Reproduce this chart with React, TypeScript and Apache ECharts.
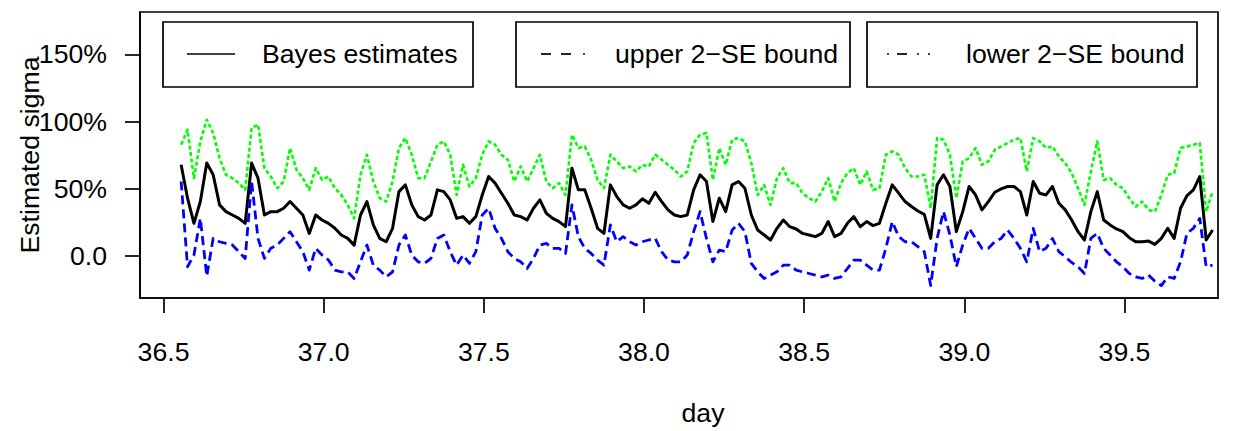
import { useEffect, useRef } from "react";
import * as echarts from "echarts";

// Sampling grid of the series (days)
const START_DAY = 36.555;
const STEP_DAY = 0.02;

// Bayes estimates of sigma (%)
const bayes = [
  67.8, 43.0, 24.3, 40.5, 69.1, 60.4, 38.0, 33.0, 30.5, 28.0,
  24.3, 69.1, 57.9, 30.5, 33.0, 33.0, 35.5, 40.5, 35.5, 30.5,
  16.8, 30.5, 26.8, 24.3, 20.6, 15.6, 13.1, 8.1, 30.5, 40.5,
  23.1, 13.1, 10.6, 20.6, 47.9, 52.9, 38.0, 29.3, 26.8, 30.5,
  49.2, 47.9, 41.7, 28.0, 29.3, 24.3, 29.3, 45.4, 59.1, 54.2,
  46.7, 39.2, 30.5, 29.3, 26.8, 35.5, 41.7, 31.8, 28.0, 25.6,
  21.8, 65.3, 49.2, 49.2, 35.5, 20.6, 16.8, 52.9, 44.2, 38.0,
  35.5, 38.0, 42.5, 39.2, 47.4, 40.5, 34.3, 30.5, 29.3, 30.5,
  49.2, 60.4, 55.4, 25.6, 43.0, 33.0, 52.9, 55.4, 50.4, 30.5,
  19.3, 15.6, 11.9, 20.6, 26.8, 21.8, 20.1, 16.8, 15.6, 14.4,
  16.8, 25.6, 14.4, 16.8, 24.3, 29.3, 21.8, 25.6, 22.6, 24.3,
  39.2, 52.9, 46.7, 40.5, 36.8, 33.5, 31.0, 13.1, 52.9, 60.4,
  51.7, 18.1, 33.0, 51.7, 45.4, 34.3, 40.5, 47.4, 49.9, 51.7,
  51.7, 47.9, 30.5, 55.4, 46.7, 45.4, 51.7, 39.2, 34.3, 26.8,
  18.1, 11.9, 33.0, 47.9, 26.8, 23.1, 20.1, 18.1, 13.6, 10.6,
  10.6, 11.1, 8.6, 13.1, 20.6, 13.1, 35.5, 44.9, 49.2, 59.1,
  11.9, 19.3,
];

// Upper 2-SE bound (%)
const upper = [
  82.8, 94.0, 57.9, 85.2, 101.4, 91.5, 72.8, 60.4, 57.9, 54.2,
  49.2, 95.2, 97.7, 65.3, 59.1, 50.4, 55.4, 80.3, 64.1, 57.9,
  49.2, 65.3, 56.6, 59.1, 50.4, 45.4, 38.0, 28.0, 60.4, 75.3,
  55.4, 43.0, 40.5, 55.4, 80.3, 87.7, 75.3, 57.9, 57.9, 70.3,
  82.8, 85.2, 75.3, 45.4, 67.8, 51.7, 57.9, 75.3, 85.2, 82.8,
  75.3, 71.6, 55.4, 66.6, 55.4, 65.3, 75.3, 55.4, 50.4, 54.2,
  45.4, 90.2, 80.3, 81.5, 71.6, 56.6, 50.4, 75.3, 70.3, 65.3,
  66.6, 62.9, 67.8, 66.6, 75.3, 71.6, 67.8, 64.1, 59.1, 62.9,
  84.0, 90.2, 91.5, 56.6, 80.3, 67.8, 86.5, 87.7, 85.2, 69.1,
  45.4, 52.9, 38.0, 57.9, 65.3, 54.2, 54.2, 46.7, 43.0, 40.5,
  47.9, 57.9, 40.5, 54.2, 61.6, 65.3, 52.9, 62.9, 49.2, 50.4,
  75.3, 77.8, 75.3, 65.3, 59.1, 59.1, 60.4, 35.5, 87.7, 86.5,
  75.3, 43.0, 70.3, 72.8, 80.3, 67.8, 70.3, 79.0, 81.5, 84.0,
  86.5, 87.7, 62.9, 87.7, 85.2, 80.3, 81.5, 74.0, 69.1, 61.6,
  50.4, 38.0, 62.9, 85.2, 56.6, 57.9, 52.9, 50.4, 43.0, 36.7,
  40.5, 34.3, 33.0, 45.4, 60.4, 61.6, 80.3, 81.5, 82.8, 84.0,
  33.0, 47.9,
];

// Lower 2-SE bound (%)
const lower = [
  55.4, -8.0, 0.7, 28.0, -15.0, 13.1, 10.6, 9.4, 8.2, 3.2,
  -1.8, 55.4, 13.1, -1.8, 5.7, 8.2, 13.1, 18.1, 10.6, 3.2,
  -10.5, 5.7, 0.7, -3.0, -10.5, -11.8, -11.8, -16.7, -4.3, 8.2,
  -6.8, -10.5, -15.5, -11.8, 8.2, 15.6, 0.7, -4.3, -5.5, -1.8,
  13.1, 15.6, 3.2, -6.8, 0.7, -5.5, 3.2, 30.5, 35.5, 20.6,
  13.1, 3.2, -1.8, -4.3, -9.3, -1.8, 8.2, 9.4, 5.7, 5.7,
  1.9, 38.0, 14.4, 5.7, 1.9, -3.0, -6.8, 23.1, 10.6, 14.4,
  10.6, 8.2, 10.6, 11.9, 13.1, 3.2, -3.0, -4.3, -4.3, 0.7,
  18.1, 33.0, 13.1, -4.3, 4.4, 3.2, 19.3, 24.3, 18.1, -5.5,
  -11.8, -16.7, -14.2, -11.8, -6.8, -6.8, -10.5, -11.8, -13.0, -14.2,
  -15.5, -14.2, -16.7, -15.5, -9.3, -3.0, -3.0, -6.8, -10.5, -10.5,
  5.7, 25.6, 14.4, 10.6, 10.6, 6.9, 3.2, -22.0, 13.1, 33.0,
  15.6, -8.0, 8.2, 20.6, 13.1, 5.7, 5.7, 10.6, 13.1, 19.3,
  13.1, 5.7, -4.3, 20.6, 3.2, 5.7, 13.1, 3.2, -0.6, -4.8,
  -8.0, -13.0, 13.1, 16.9, 5.7, 0.7, -4.3, -8.0, -13.0, -15.5,
  -16.7, -14.2, -18.7, -22.0, -15.5, -16.7, -4.3, 16.9, 20.6, 28.0,
  -8.0, -6.8,
];

const xTicks = [36.5, 37.0, 37.5, 38.0, 38.5, 39.0, 39.5];
const yTicks = [0, 50, 100, 150];
const legendLabels = ["Bayes estimates", "upper 2\u2212SE bound", "lower 2\u2212SE bound"];

const FONT = "'Liberation Sans', Arial, Helvetica, sans-serif";
const FS = 26.67;
const LW = 1.7;

const days = bayes.map((_, i) => +(START_DAY + STEP_DAY * i).toFixed(4));
const toPairs = (vals: number[]) => vals.map((v, i) => [days[i], v]);

// Legend boxes: [left, right]
const legendBoxes = [
  [163, 473],
  [516, 850],
  [867, 1197],
];
const LEG_TOP = 22;
const LEG_BOTTOM = 87;
const LEG_MID = 54;

// Sample glyph segments for each legend key, relative to the box's left edge
const legendSegments = [
  [[24, 72]],
  [[25, 35], [45, 55], [67, 69]],
  [[20, 22], [30, 40], [50, 52], [61, 63]],
];

function buildGraphics() {
  const els: any[] = [];
  legendBoxes.forEach(([l, r], k) => {
    els.push({
      type: "rect",
      shape: { x: l, y: LEG_TOP, width: r - l, height: LEG_BOTTOM - LEG_TOP },
      style: { fill: "#fff", stroke: "#000", lineWidth: LW },
    });
    legendSegments[k].forEach(([a, b]) => {
      els.push({
        type: "line",
        shape: { x1: l + a, y1: LEG_MID, x2: l + b, y2: LEG_MID },
        style: { stroke: "#000", lineWidth: LW },
      });
    });
    els.push({
      type: "text",
      x: l + 99,
      y: LEG_MID,
      style: {
        text: legendLabels[k],
        font: `${FS}px ${FONT}`,
        fill: "#000",
        textAlign: "left",
        textVerticalAlign: "middle",
      },
    });
  });
  els.push({
    type: "text",
    x: 703,
    y: 413,
    style: {
      text: "day",
      font: `${FS}px ${FONT}`,
      fill: "#000",
      textAlign: "center",
      textVerticalAlign: "middle",
    },
  });
  els.push({
    type: "text",
    x: 30,
    y: 155,
    rotation: Math.PI / 2,
    style: {
      text: "Estimated sigma",
      font: `${FS}px ${FONT}`,
      fill: "#000",
      textAlign: "center",
      textVerticalAlign: "middle",
    },
  });
  return els;
}

export default function App() {
  const ref = useRef<HTMLDivElement>(null);

  useEffect(() => {
    if (!ref.current) return;
    const chart = echarts.init(ref.current, null, { renderer: "svg" });
    const lineSeries = (name: string, vals: number[], color: string, width: number, type: any) => ({
      name,
      type: "line",
      data: toPairs(vals),
      showSymbol: false,
      symbol: "none",
      silent: true,
      lineStyle: { color, width, type, cap: "butt", join: "round" },
    });
    const axisLine = { show: true, onZero: false, lineStyle: { color: "#000", width: LW } };
    chart.setOption({
      animation: false,
      backgroundColor: "#fff",
      grid: {
        left: 140,
        top: 12,
        width: 1078,
        height: 286,
        show: true,
        borderColor: "#000",
        borderWidth: LW,
        backgroundColor: "transparent",
        containLabel: false,
        outerBoundsMode: "none",
      },
      xAxis: {
        type: "value",
        position: "bottom",
        min: 36.4266,
        max: 39.7919,
        axisLine,
        splitLine: { show: false },
        axisTick: {
          show: true,
          inside: false,
          length: 15,
          customValues: xTicks,
          lineStyle: { color: "#000", width: LW },
        },
        axisLabel: {
          customValues: xTicks,
          formatter: (v: number) => v.toFixed(1),
          fontSize: FS,
          fontFamily: FONT,
          color: "#000",
          margin: 40,
          showMinLabel: true,
          showMaxLabel: true,
        },
      },
      yAxis: {
        type: "value",
        position: "left",
        min: -31.23,
        max: 181.45,
        axisLine,
        splitLine: { show: false },
        axisTick: {
          show: true,
          inside: false,
          length: 15,
          customValues: yTicks,
          lineStyle: { color: "#000", width: LW },
        },
        axisLabel: {
          customValues: yTicks,
          formatter: (v: number) => (v === 0 ? "0.0" : `${v}%`),
          fontSize: FS,
          fontFamily: FONT,
          color: "#000",
          margin: 33,
        },
      },
      series: [
        lineSeries("Bayes estimates", bayes, "#000000", 3, "solid"),
        lineSeries("upper 2-SE bound", upper, "#00ff00", 2.6, [4, 2.5]),
        lineSeries("lower 2-SE bound", lower, "#0000ff", 2.8, [9, 5]),
      ],
      graphic: buildGraphics(),
    });
    return () => chart.dispose();
  }, []);

  return (
    <div
      ref={ref}
      style={{ position: "absolute", left: 0, top: 0, width: 1239, height: 431, background: "#fff" }}
    />
  );
}
